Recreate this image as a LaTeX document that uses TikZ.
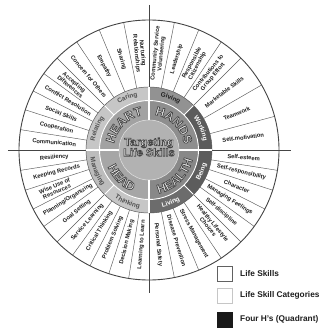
\documentclass[tikz,border=0pt]{standalone}
\usepackage{fontspec}
\setmainfont{Liberation Sans}
\usetikzlibrary{decorations.text}
\definecolor{linec}{HTML}{454545}
\definecolor{spokec}{HTML}{5A5A5A}
\definecolor{txt}{HTML}{1E1E1E}
\definecolor{disk}{HTML}{B2B2B2}
\definecolor{hheart}{HTML}{A2A2A2}
\definecolor{hhands}{HTML}{8E8E8E}
\definecolor{hhead}{HTML}{A6A6A6}
\definecolor{hhealth}{HTML}{888888}
\definecolor{clight}{HTML}{C6C6C6}
\definecolor{cmid}{HTML}{929292}
\definecolor{cdark}{HTML}{5C5C5C}
\definecolor{outl}{HTML}{4A4A4A}
\definecolor{fillt}{HTML}{E8E8E8}
\definecolor{ctxt}{HTML}{505050}

% outlined text: fill light, stroke dark (text rendering mode 2)
\newcommand\olon{\color{fillt}\special{pdf:literal direct 0.27 0.27 0.27 RG 2 Tr 0.7 w}}
\newcommand\oloff{\special{pdf:literal direct 0 Tr 0.4 w}}

\newcommand\mysector[5]{\fill[#1] (#2:#4 pt) arc[start angle=#2, end angle=#3, radius=#4 pt] -- (#3:#5 pt) arc[start angle=#3, end angle=#2, radius=#5 pt] -- cycle;}
% arc text: #1 angle, #2 radius, #3 half span, #4 format, #5 text
\newcommand\toptext[5]{\path[decorate, decoration={text along path, text align=center, text={|#4|#5}}] ({#1+#3}:#2 pt) arc[start angle={#1+#3}, end angle={#1-#3}, radius=#2 pt];}
\newcommand\bottext[5]{\path[decorate, decoration={text along path, text align=center, text={|#4|#5}}] ({#1-#3}:#2 pt) arc[start angle={#1-#3}, end angle={#1+#3}, radius=#2 pt];}
\newcommand\hfmt{\fontsize{12.5}{12.5}\selectfont\bfseries\olon}
\newcommand\cfmt{\fontsize{6.5}{6.5}\selectfont\bfseries}

\begin{document}
\begin{tikzpicture}[x=1pt,y=1pt,
  crossline/.style={draw=linec, line width=0.9pt},
  rim/.style={draw=linec, line width=0.9pt},
  spoke/.style={draw=spokec, line width=0.45pt},
  skill/.style={font=\fontsize{5.8}{6.1}\selectfont\bfseries, text=txt, align=center, inner sep=0pt},
  legtext/.style={font=\fontsize{8.3}{9}\selectfont\bfseries, text=txt, anchor=west, inner sep=0pt},
  legbox/.style={minimum size=15pt, inner sep=0pt, line width=0.8pt},
  sep/.style={draw=white, line width=1.2pt},
  ctext/.style={font=\fontsize{11}{10.5}\selectfont\bfseries, align=center, inner sep=0pt},
]
\useasboundingbox (-149,-179) rectangle (173,150);
\fill[white] (-149,-179) rectangle (173,150);

% cross lines
\coordinate (L) at (-141,0);
\coordinate (R) at (142,0);
\coordinate (T) at (0,145);
\coordinate (B) at (0,-143);
\draw[crossline] (L) -- (R);
\draw[crossline] (T) -- (B);

% spokes
\foreach \a in {101.25,112.5,123.75,135,144,153,162,171,189,198,207,216,225,234,243,252,261,281.25,292.5,303.75,315,324,333,342,351,15,30,45,56.25,67.5,78.75}
  \draw[spoke] (\a:63pt) -- (\a:130pt);

% outer circle
\draw[rim] (0,0) circle[radius=130pt];

% category ring
\mysector{clight}{90}{135}{49.5}{63}
\mysector{clight}{135}{180}{49.5}{63}
\mysector{clight!95!black}{180}{225}{49.5}{63}
\mysector{clight}{225}{270}{49.5}{63}
\mysector{cdark!90!white}{270}{315}{49.5}{63}
\mysector{cdark}{315}{360}{49.5}{63}
\mysector{cdark}{0}{45}{49.5}{63}
\mysector{cmid}{45}{90}{49.5}{63}
% 4H ring
\mysector{hheart}{90}{180}{30}{49.5}
\mysector{hhead}{180}{270}{30}{49.5}
\mysector{hhealth}{270}{360}{30}{49.5}
\mysector{hhands}{0}{90}{30}{49.5}
\fill[disk] (0,0) circle[radius=30pt];
\draw[spokec, line width=0.5pt] (0,0) circle[radius=63pt];
% separators
\draw[white, line width=0.9pt] (0,0) circle[radius=49.5pt];
\draw[white!70!gray, line width=0.6pt] (0,0) circle[radius=30pt];
\foreach \a in {0,90,180,270} \draw[sep] (\a:30pt) -- (\a:62.6pt);
\foreach \a in {45,135,225,315} \draw[white, line width=0.8pt] (\a:49.5pt) -- (\a:62.6pt);

% category labels
\toptext{112.5}{55}{20}{\cfmt\color{ctxt}}{Caring}
\toptext{157.5}{55}{20}{\cfmt\color{ctxt}}{Relating}
\toptext{67.5}{55}{20}{\cfmt\color{txt}}{Giving}
\toptext{22.5}{55}{20}{\cfmt\color{white}}{Working}
\bottext{202.5}{59}{20}{\cfmt\color{ctxt}}{Managing}
\bottext{247.5}{59}{20}{\cfmt\color{ctxt}}{Thinking}
\bottext{292.5}{59}{20}{\cfmt\color{white}}{Living}
\bottext{337.5}{59}{20}{\cfmt\color{white}}{Being}

% four H's (outlined letters)
\toptext{135}{35.5}{50}{\hfmt}{HEART}
\toptext{45}{35.5}{50}{\hfmt}{HANDS}
\bottext{225}{44.5}{50}{\hfmt}{HEAD}
\bottext{315}{44.5}{50}{\hfmt}{HEALTH}
\node[inner sep=0pt] (reset1) at (0,0) {\oloff};

% centre text
\node[ctext] (ct) at (0,3) {\olon Targeting\\\olon Life Skills\oloff};

% life skills
\foreach \a/\r/\t [count=\i] in {
  95.625/97/{Nurturing\\Relationships}, 106.875/95/Sharing, 118.125/95/Empathy, 129.375/95/{Concern for Others},
  139.5/101/{Accepting\\Differences}, 148.5/95/{Conflict Resolution}, 157.5/95/{Social Skills}, 166.5/95/Cooperation, 175.5/95/Communication,
  184.5/95/Resiliency, 193.5/95/{Keeping Records}, 202.5/101/{Wise Use of\\Resources}, 211.5/95/{Planning/Organizing}, 220.5/95/{Goal Setting},
  229.5/95/{Service Learning}, 238.5/95/{Critical Thinking}, 247.5/95/{Problem Solving}, 256.5/95/{Decision Making}, 265.5/95/{Learning to Learn},
  275.625/95/{Personal Safety}, 286.875/95/{Disease Prevention}, 298.125/95/{Stress Management}, 309.375/97/{Healthy Lifestyle\\Choices},
  319.5/95/{Self-discipline}, 328.5/95/{Managing Feelings}, 337.5/95/Character, 346.5/95/{Self-responsibility}, 355.5/95/{Self-esteem},
  7.5/95/{Self-motivation}, 22.5/95/Teamwork, 37.5/95/{Marketable Skills},
  50.625/97/{Contributions to\\Group Effort}, 61.875/97/{Responsible\\Citizenship}, 73.125/95/Leadership, 84.375/97/{Community Service\\Volunteering}}{
  \pgfmathsetmacro\rot{(\a>90 && \a<270) ? \a-180 : \a}
  \node[skill, rotate=\rot] (s\i) at (\a:\r pt) {\t};
}

% legend
\node[legbox, draw=linec!85, fill=white] (lb1) at (76,-124) {};
\node[legtext] (lt1) at (91,-124) {Life Skills};
\node[legbox, draw=gray!45, fill=white] (lb2) at (76,-145.5) {};
\node[legtext] (lt2) at (91,-145.5) {Life Skill Categories};
\node[legbox, draw=black!90, fill=black!90] (lb3) at (76,-169.5) {};
\node[legtext] (lt3) at (91,-169.5) {Four H's (Quadrant)};
\end{tikzpicture}
\end{document}
